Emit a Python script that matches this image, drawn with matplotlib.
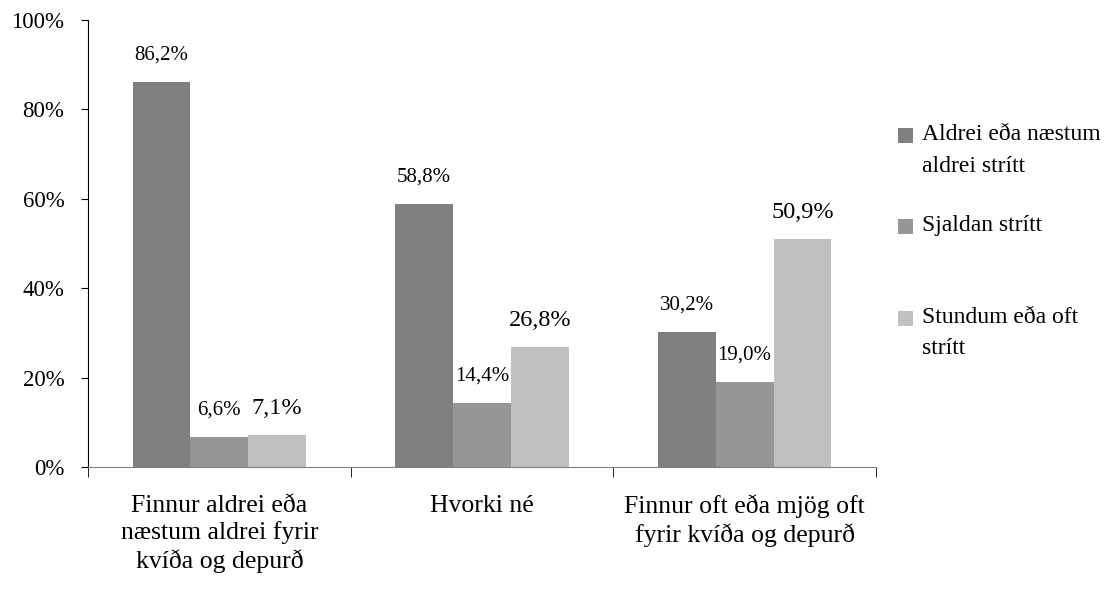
import numpy as np
import matplotlib.pyplot as plt
from matplotlib.patches import Rectangle

plt.rcParams['font.family'] = ['Liberation Serif', 'DejaVu Serif']

categories = ["Finnur aldrei eða\nnæstum aldrei fyrir\nkvíða og depurð",
              "Hvorki né",
              "Finnur oft eða mjög oft\nfyrir kvíða og depurð"]
series = ["Aldrei eða næstum\naldrei strítt", "Sjaldan strítt", "Stundum eða oft\nstrítt"]
aldrei = [86.2, 58.8, 30.2]
sjaldan = [6.6, 14.4, 19.0]
stundum = [7.1, 26.8, 50.9]
colors = ["#808080", "#969696", "#c0c0c0"]
# value labels of the last series are larger in the original
label_fs = [15, 15, 17.5]

W, H = 1117, 591
fig = plt.figure(figsize=(W / 100, H / 100), dpi=100)
ax = fig.add_axes([88 / W, 1 - 467 / H, (876 - 88) / W, (467 - 20) / H])

x = np.arange(len(categories))
w = 0.22
for i, vals in enumerate([aldrei, sjaldan, stundum]):
    bars = ax.bar(x + (i - 1) * w, vals, width=w, color=colors[i], linewidth=0)
    for b, v in zip(bars, vals):
        ax.annotate(f"{v:.1f}%".replace(".", ","), (b.get_x() + b.get_width() / 2, v),
                    xytext=(0, 19.5), textcoords="offset points", ha="center", va="center",
                    fontsize=label_fs[i])

ax.set_ylim(0, 100)
ax.set_xlim(-0.5, 2.5)
ax.set_yticks(np.arange(0, 101, 20))
ax.set_yticklabels([f"{t}%" for t in range(0, 101, 20)], fontsize=16.5)
ax.tick_params(axis="y", length=5, direction="out", pad=12)
ax.set_xticks(x)
ax.set_xticklabels(categories, fontsize=18.5, linespacing=1.25)
ax.tick_params(axis="x", length=0, pad=20)
ax.set_xticks([-0.5, 0.5, 1.5, 2.5], minor=True)
ax.tick_params(axis="x", which="minor", length=7, direction="out", color="black")
for s in ["top", "right"]:
    ax.spines[s].set_visible(False)
ax.spines["bottom"].set_color("#808080")
ax.spines["left"].set_color("black")

# legend drawn by hand to keep the uneven spacing of the original
leg_y = [135, 226, 318]  # pixel centre of the first line of each entry
line_h = 31
for lbl, c, yy in zip(series, colors, leg_y):
    fig.patches.append(Rectangle((898 / W, 1 - (yy + 7.5) / H), 15 / W, 15 / H,
                                 transform=fig.transFigure, color=c, linewidth=0))
    for k, line in enumerate(lbl.split("\n")):
        fig.text(922 / W, 1 - (yy + k * line_h) / H, line, fontsize=17,
                 va="center", ha="left")

fig.savefig("out.png", dpi=100)
